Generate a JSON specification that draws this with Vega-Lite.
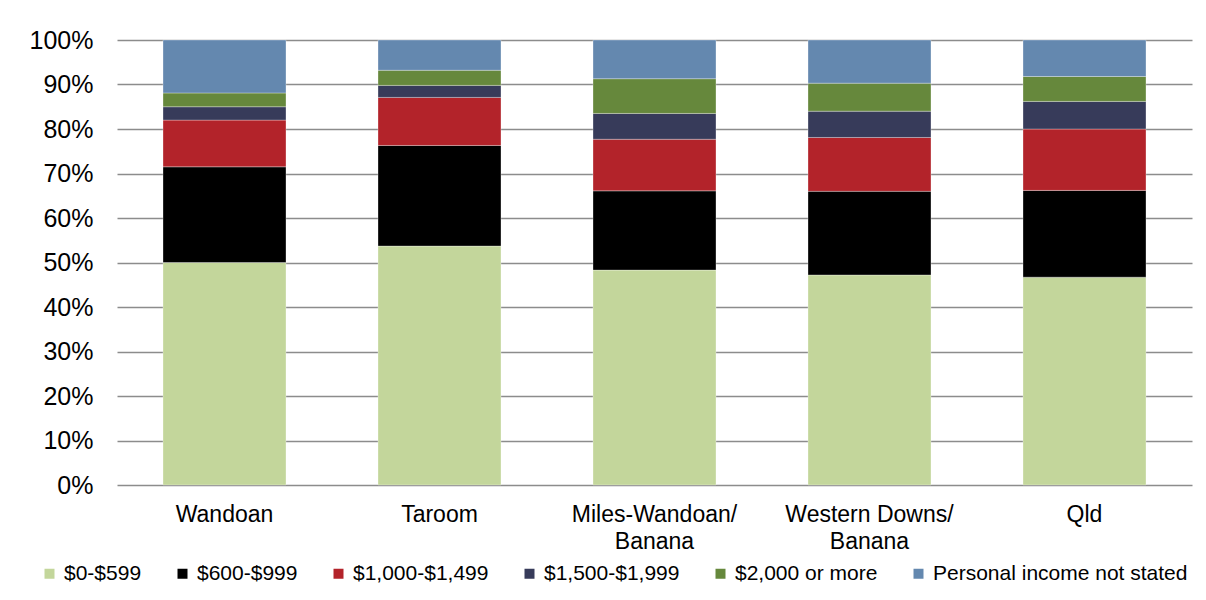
{
  "$schema": "https://vega.github.io/schema/vega-lite/v6.json",
  "width": 1075,
  "height": 445,
  "autosize": {"type": "none"},
  "padding": {"left": 117, "top": 40, "right": 14, "bottom": 115},
  "background": "#ffffff",
  "data": {
    "values": [
      {"region": "Wandoan", "band": "$0-$599", "rank": 1, "share": 50.0},
      {"region": "Wandoan", "band": "$600-$999", "rank": 2, "share": 21.5},
      {"region": "Wandoan", "band": "$1,000-$1,499", "rank": 3, "share": 10.5},
      {"region": "Wandoan", "band": "$1,500-$1,999", "rank": 4, "share": 3.0},
      {"region": "Wandoan", "band": "$2,000 or more", "rank": 5, "share": 3.1},
      {"region": "Wandoan", "band": "Personal income not stated", "rank": 6, "share": 11.9},
      {"region": "Taroom", "band": "$0-$599", "rank": 1, "share": 53.7},
      {"region": "Taroom", "band": "$600-$999", "rank": 2, "share": 22.6},
      {"region": "Taroom", "band": "$1,000-$1,499", "rank": 3, "share": 10.8},
      {"region": "Taroom", "band": "$1,500-$1,999", "rank": 4, "share": 2.7},
      {"region": "Taroom", "band": "$2,000 or more", "rank": 5, "share": 3.4},
      {"region": "Taroom", "band": "Personal income not stated", "rank": 6, "share": 6.8},
      {"region": "Miles-Wandoan/Banana", "band": "$0-$599", "rank": 1, "share": 48.3},
      {"region": "Miles-Wandoan/Banana", "band": "$600-$999", "rank": 2, "share": 17.8},
      {"region": "Miles-Wandoan/Banana", "band": "$1,000-$1,499", "rank": 3, "share": 11.6},
      {"region": "Miles-Wandoan/Banana", "band": "$1,500-$1,999", "rank": 4, "share": 5.8},
      {"region": "Miles-Wandoan/Banana", "band": "$2,000 or more", "rank": 5, "share": 7.8},
      {"region": "Miles-Wandoan/Banana", "band": "Personal income not stated", "rank": 6, "share": 8.7},
      {"region": "Western Downs/Banana", "band": "$0-$599", "rank": 1, "share": 47.2},
      {"region": "Western Downs/Banana", "band": "$600-$999", "rank": 2, "share": 18.8},
      {"region": "Western Downs/Banana", "band": "$1,000-$1,499", "rank": 3, "share": 12.1},
      {"region": "Western Downs/Banana", "band": "$1,500-$1,999", "rank": 4, "share": 5.9},
      {"region": "Western Downs/Banana", "band": "$2,000 or more", "rank": 5, "share": 6.3},
      {"region": "Western Downs/Banana", "band": "Personal income not stated", "rank": 6, "share": 9.7},
      {"region": "Qld", "band": "$0-$599", "rank": 1, "share": 46.7},
      {"region": "Qld", "band": "$600-$999", "rank": 2, "share": 19.5},
      {"region": "Qld", "band": "$1,000-$1,499", "rank": 3, "share": 13.8},
      {"region": "Qld", "band": "$1,500-$1,999", "rank": 4, "share": 6.2},
      {"region": "Qld", "band": "$2,000 or more", "rank": 5, "share": 5.6},
      {"region": "Qld", "band": "Personal income not stated", "rank": 6, "share": 8.2}
    ]
  },
  "mark": {"type": "bar", "stroke": "#ffffff", "strokeOpacity": 0.3, "strokeWidth": 1},
  "encoding": {
    "x": {
      "field": "region",
      "type": "nominal",
      "sort": null,
      "scale": {"paddingInner": 0.428, "paddingOuter": 0.214},
      "axis": {
        "title": null,
        "domain": false,
        "ticks": false,
        "labelAngle": 0,
        "labelFont": "Liberation Sans",
        "labelFontSize": 23,
        "labelColor": "#000000",
        "labelPadding": 18,
        "labelBaseline": "top",
        "labelLineHeight": 27,
        "labelExpr": "indexof(datum.label, '/') > 0 ? [substring(datum.label, 0, indexof(datum.label, '/') + 1), substring(datum.label, indexof(datum.label, '/') + 1)] : datum.label"
      }
    },
    "y": {
      "field": "share",
      "type": "quantitative",
      "stack": "normalize",
      "scale": {"domain": [0, 1], "nice": false},
      "axis": {
        "title": null,
        "format": ".0%",
        "values": [0, 0.1, 0.2, 0.3, 0.4, 0.5, 0.6, 0.7, 0.8, 0.9, 1],
        "domain": false,
        "ticks": false,
        "grid": true,
        "gridColor": "#8c8c8c",
        "gridWidth": 1.5,
        "labelFont": "Liberation Sans",
        "labelFontSize": 25,
        "labelColor": "#000000",
        "labelPadding": 24
      }
    },
    "order": {"field": "rank", "type": "quantitative", "sort": "ascending"},
    "color": {
      "field": "band",
      "type": "nominal",
      "scale": {
        "domain": ["$0-$599", "$600-$999", "$1,000-$1,499", "$1,500-$1,999", "$2,000 or more", "Personal income not stated"],
        "range": ["#c3d69b", "#000000", "#b3232a", "#373b5a", "#66883c", "#6488af"]
      },
      "legend": {
        "title": null,
        "orient": "none",
        "direction": "horizontal",
        "columns": 6,
        "legendX": -78,
        "legendY": 523,
        "padding": 0,
        "columnPadding": 30,
        "symbolType": "square",
        "symbolSize": 100,
        "symbolStrokeWidth": 0,
        "labelOffset": 4,
        "labelFont": "Liberation Sans",
        "labelFontSize": 21,
        "labelColor": "#000000",
        "labelLimit": 400
      }
    }
  },
  "config": {"view": {"stroke": null}}
}
